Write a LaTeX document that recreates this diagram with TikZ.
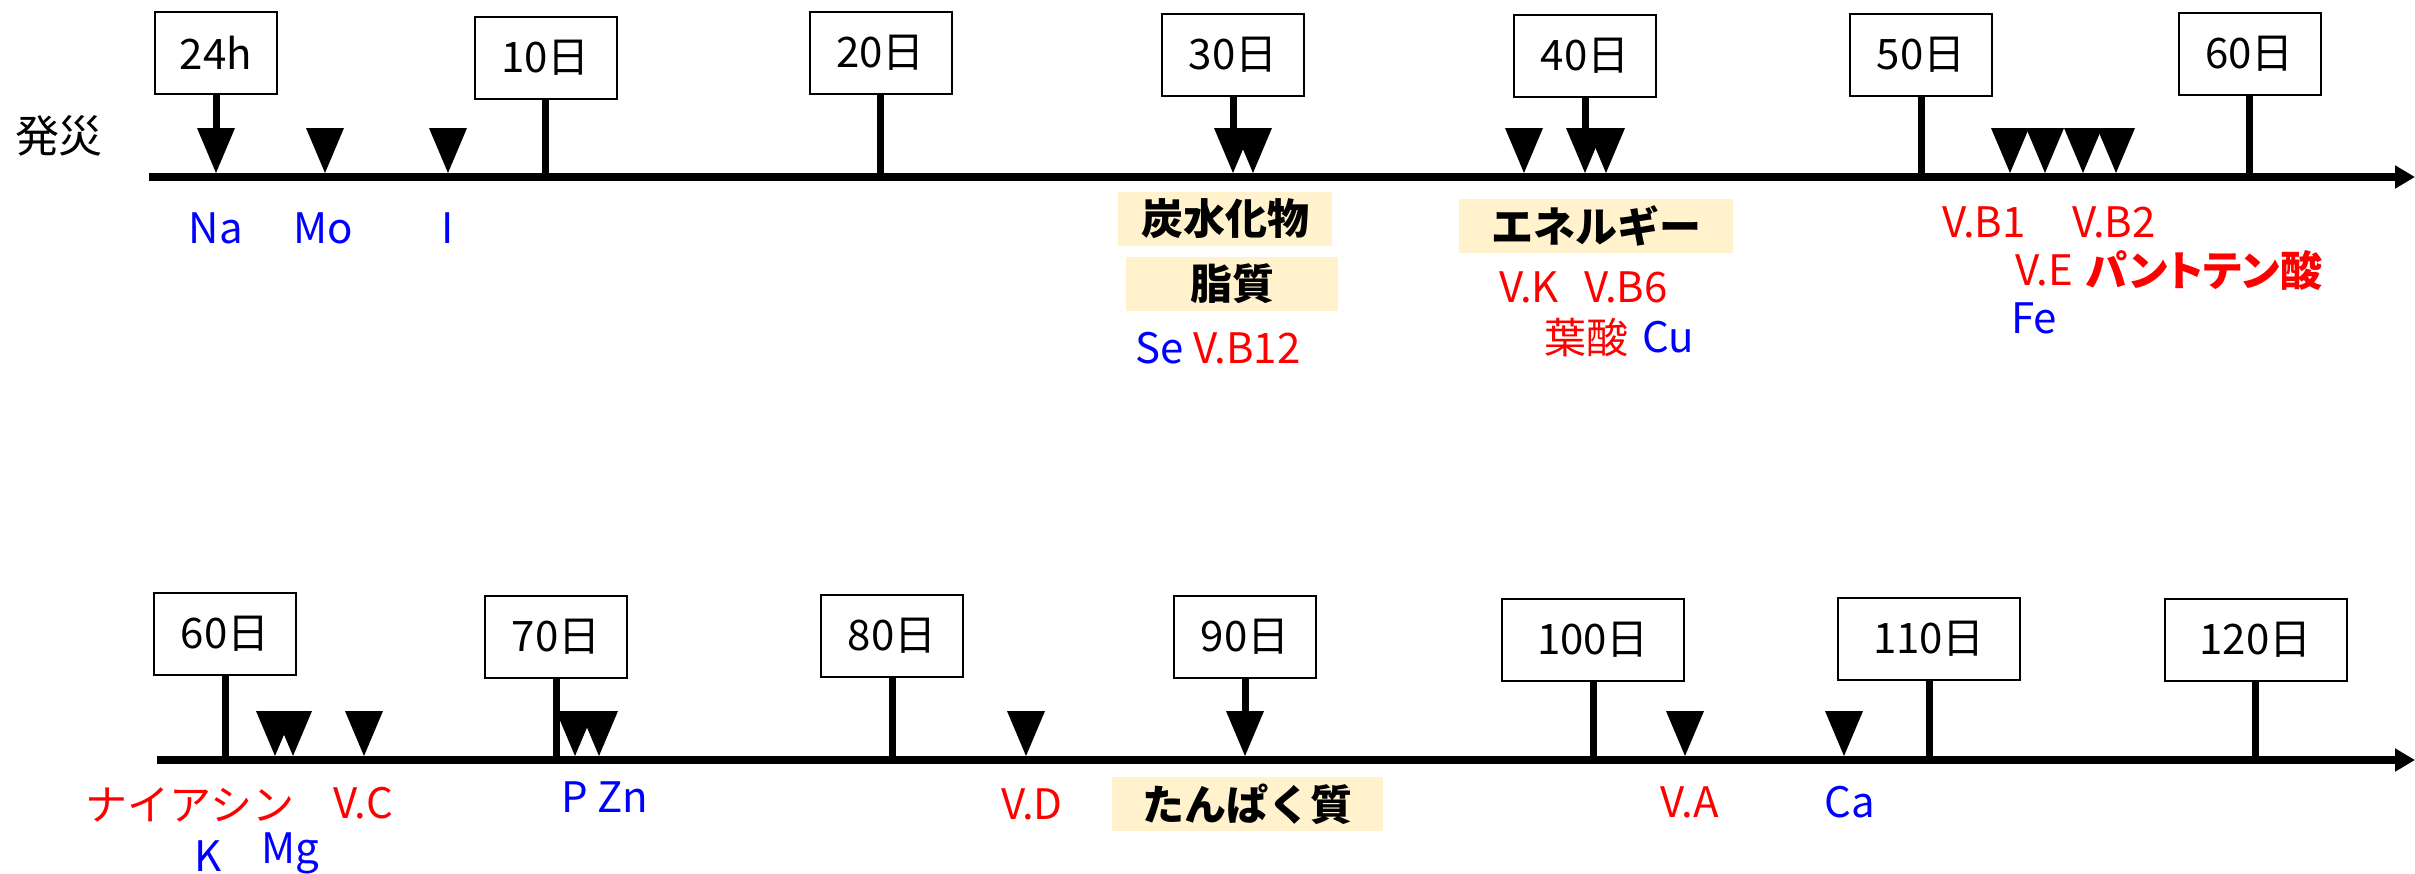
\documentclass[tikz,border=0pt]{standalone}
\usepackage{fontspec}
\setmainfont{Noto Sans CJK JP}
\newfontfamily\jpprop{Noto Sans CJK JP}[RawFeature=+palt]
\usetikzlibrary{arrows.meta}
\definecolor{catfill}{HTML}{FFF2CC}
\definecolor{lblue}{RGB}{0,0,255}
\definecolor{lred}{RGB}{255,0,0}
\tikzset{
  daybox/.style={draw=black, line width=1pt, minimum width=71pt, minimum height=41pt, inner sep=0pt, font=\fontsize{21}{25}\selectfont},
  widebox/.style={daybox, minimum width=91pt},
  axisline/.style={line width=4.25pt, -{Triangle[length=10pt,width=11pt]}},
  tickline/.style={line width=3.5pt},
  lab/.style={anchor=base, inner sep=0pt, font=\fontsize{21}{25}\selectfont},
  blab/.style={lab, text=lblue},
  rlab/.style={lab, text=lred},
  catbox/.style={fill=catfill, inner sep=0pt, minimum height=27pt, font=\fontsize{21}{25}\selectfont\bfseries},
}
\begin{document}
\begin{tikzpicture}[x=0.5pt,y=-0.5pt]
\useasboundingbox (0,0) rectangle (2415,873);
% ---------- top row ----------
\coordinate (a1s) at (149,177);
\coordinate (a1e) at (2415,177);
\coordinate (t1) at (0,128);
\draw[axisline] (a1s) -- (a1e);
\node[lab, font=\fontsize{22}{26}\selectfont] (hassai) at (59,152) {発災};

\node[daybox, minimum width=61pt] (d24) at (216,52.5) {24h};
\node[daybox] (d10) at (545.5,57.5) {10日};
\node[daybox] (d20) at (880.5,52.5) {20日};
\node[daybox] (d30) at (1233,55) {30日};
\node[daybox] (d40) at (1585,56) {40日};
\node[daybox] (d50) at (1921,55) {50日};
\node[daybox] (d60a) at (2249.5,53.5) {60日};

\foreach \b in {d10,d20,d50,d60a}
  \draw[tickline] (\b.south) -- (\b.south |- a1s);
\foreach \b in {d24,d30,d40}
  \draw[tickline] (\b.south) -- (\b.south |- t1);

\foreach \x in {216,325,448,1233,1253,1524,1585,1606,2010,2045,2083,2116}
  \fill (\x-19,128) -- (\x+19,128) -- (\x,173) -- cycle;

\node[blab] (na) at (216,243) {Na};
\node[blab] (mo) at (323,243) {Mo};
\node[blab] (io) at (448,243) {I};

\node[catbox, minimum width=107pt] (carb) at (1225,219) {炭水化物};
\node[catbox, minimum width=106pt] (fat) at (1232,284) {脂質};
\node[lab] (seb12) at (1218,363) {\textcolor{lblue}{Se} \textcolor{lred}{V.B12}};

\node[catbox, minimum width=137pt] (ene) at (1596,226) {エネルギー};
\node[rlab] (vk) at (1529,302) {V.K};
\node[rlab] (vb6) at (1626,302) {V.B6};
\node[rlab] (yosan) at (1586,353) {葉酸};
\node[blab] (cu) at (1668,352) {Cu};

\node[rlab] (vb1) at (1984,237) {V.B1};
\node[rlab] (vb2) at (2114,237) {V.B2};
\node[rlab] (ve) at (2044,285) {V.E};
\node[rlab, font=\fontsize{21}{25}\selectfont\jpprop\bfseries] (pant) at (2204,286) {パントテン酸};
\node[blab] (fe) at (2034,333) {Fe};

% ---------- bottom row ----------
\coordinate (a2s) at (157,760);
\coordinate (a2e) at (2415,760);
\coordinate (t2) at (0,711);
\draw[axisline] (a2s) -- (a2e);

\node[daybox] (e60) at (225,634) {60日};
\node[daybox] (e70) at (556,637) {70日};
\node[daybox] (e80) at (892,636) {80日};
\node[daybox] (e90) at (1245,636.5) {90日};
\node[widebox] (e100) at (1593,639.5) {100日};
\node[widebox] (e110) at (1929,639) {110日};
\node[widebox] (e120) at (2255.5,639.5) {120日};

\foreach \b in {e60,e70,e80,e100,e110,e120}
  \draw[tickline] (\b.south) -- (\b.south |- a2s);
\draw[tickline] (e90.south) -- (e90.south |- t2);

\foreach \x in {275,293,364,575,599,1026,1245,1685,1844}
  \fill (\x-19,711) -- (\x+19,711) -- (\x,756) -- cycle;

\node[rlab] (niacin) at (190,820) {ナイアシン};
\node[rlab] (vc) at (363,818) {V.C};
\node[blab] (k) at (208,871) {K};
\node[blab] (mg) at (290,863) {Mg};
\node[blab] (p) at (575,812) {P};
\node[blab] (zn) at (623,812) {Zn};
\node[rlab] (vd) at (1032,819) {V.D};
\node[catbox, minimum width=135.5pt] (prot) at (1247.5,804) {たんぱく質};
\node[rlab] (va) at (1690,817) {V.A};
\node[blab] (ca) at (1850,817) {Ca};
\end{tikzpicture}
\end{document}
